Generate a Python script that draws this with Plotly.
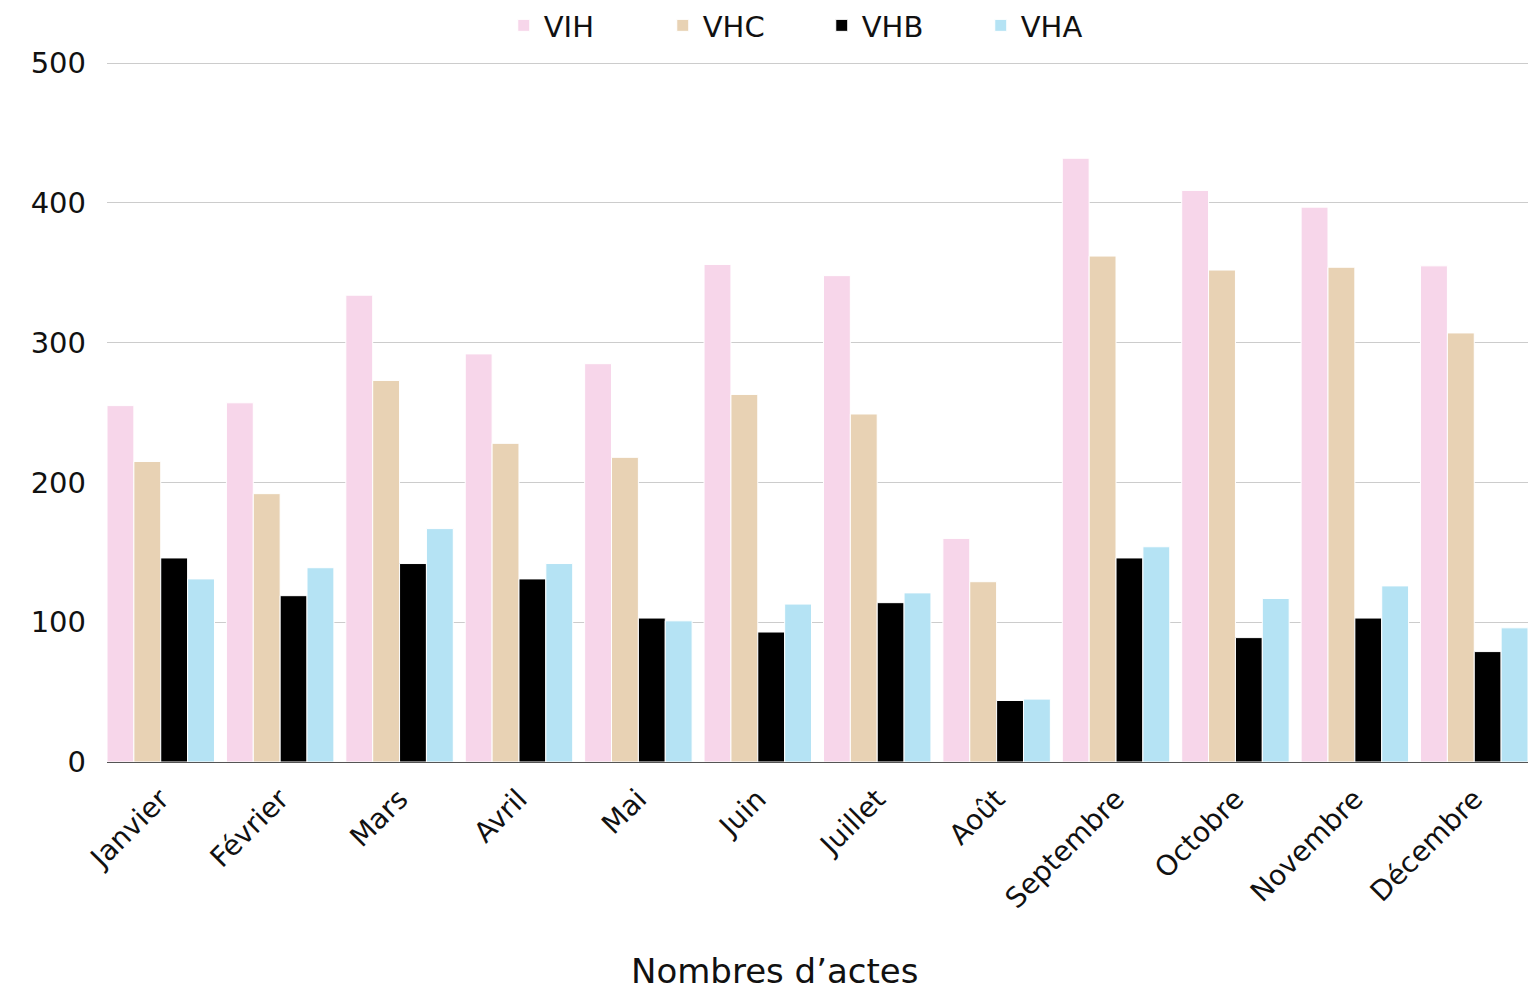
import plotly.graph_objects as go

months = ['Janvier', 'Février', 'Mars', 'Avril', 'Mai', 'Juin', 'Juillet',
          'Août', 'Septembre', 'Octobre', 'Novembre', 'Décembre']

vih = [255, 257, 334, 292, 285, 356, 348, 160, 432, 409, 397, 355]
vhc = [215, 192, 273, 228, 218, 263, 249, 129, 362, 352, 354, 307]
vhb = [146, 119, 142, 131, 103, 93, 114, 44, 146, 89, 103, 79]
vha = [131, 139, 167, 142, 101, 113, 121, 45, 154, 117, 126, 96]

y_ticks = [0, 100, 200, 300, 400, 500]

FONT = 'DejaVu Sans'
TXT = '#111111'
series = [
    ('VIH', vih, '#F7D6EA'),
    ('VHC', vhc, '#E8D2B4'),
    ('VHB', vhb, '#000000'),
    ('VHA', vha, '#B5E3F4'),
]

fig = go.Figure()

for name, vals, color in series:
    fig.add_trace(go.Bar(
        x=months, y=vals, name=name,
        marker_color=color,
        marker_line_color='white',
        marker_line_width=1,
    ))

fig.update_xaxes(
    range=[-0.45, 11.45],
    tickangle=-45,
    tickfont=dict(family=FONT, size=28, color=TXT),
    showline=False,
    ticks='',
    ticklabelstandoff=14,
    automargin=False,
)
fig.update_yaxes(
    range=[0, 503],
    tickvals=y_ticks,
    tickfont=dict(family=FONT, size=29, color=TXT),
    gridcolor='#CCCCCC',
    gridwidth=1,
    zeroline=True,
    zerolinecolor='#555555',
    zerolinewidth=1,
    ticks='',
    ticklabelstandoff=20,
    automargin=False,
)

# axis title placed as annotation (sits left of plot centre in the original)
fig.add_annotation(
    text='Nombres d’actes', xref='paper', yref='paper',
    x=0.47, y=-0.297, xanchor='center', yanchor='middle',
    showarrow=False, font=dict(family=FONT, size=34, color=TXT),
)

fig.update_layout(
    barmode='group',
    bargap=0.1,
    bargroupgap=0.0,
    plot_bgcolor='white',
    paper_bgcolor='white',
    width=1528,
    height=990,
    margin=dict(l=107, r=0, t=55, b=228),
    showlegend=True,
    legend=dict(
        orientation='h',
        xanchor='center', x=0.503,
        yanchor='middle', y=1.048,
        font=dict(family=FONT, size=29, color=TXT),
        entrywidth=114,
        entrywidthmode='pixels',
        itemwidth=30,
        traceorder='normal',
    ),
)

fig.write_html('out.html', config={'displayModeBar': False},
               post_script="document.body.style.margin='0';")
